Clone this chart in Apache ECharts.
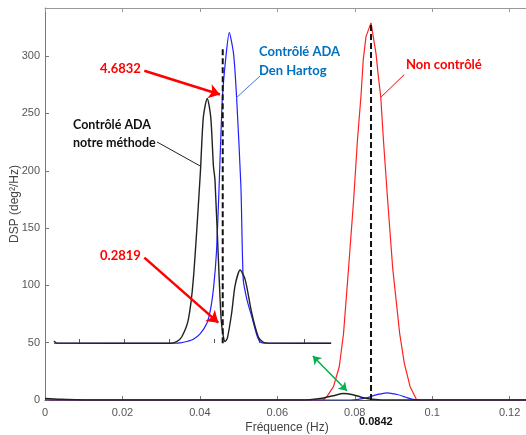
<!DOCTYPE html>
<html>
<head>
<meta charset="utf-8">
<script src="https://cdn.jsdelivr.net/npm/echarts@6/dist/echarts.min.js"></script>
<style>html,body{margin:0;padding:0;background:#fff}#c{width:526px;height:435px}</style>
</head>
<body>
<div id="c"></div>
<script>
// ---- Axis ticks ----
const xTicks = [0, 0.02, 0.04, 0.06, 0.08, 0.1, 0.12];
const yTicks = [0, 50, 100, 150, 200, 250, 300];
const xMax = 0.125, yMax = 342;

// ---- Main spectra (DSP vs frequency) ----
const redFreq = [0, 0.0719, 0.0728, 0.0745, 0.0760, 0.0771, 0.0784, 0.0797, 0.0807, 0.0816, 0.0822, 0.0829, 0.0842, 0.0855, 0.0861, 0.0867, 0.0874, 0.0885, 0.0898, 0.0916, 0.0928, 0.0943, 0.0959, 0.0969, 0.125];
const redDsp  = [0, 0, 2.9, 11.6, 29, 58, 115, 174, 227, 265, 297, 317, 329, 302, 282, 265, 227, 174, 115, 58, 32, 11.6, 0.6, 0, 0];

const blueFreq = [0, 0.079, 0.0805, 0.083, 0.0855, 0.0883, 0.091, 0.0932, 0.095, 0.097, 0.125];
const blueDsp  = [0, 0, 0.4, 1.8, 4.4, 6.3, 4.8, 2.4, 0.6, 0, 0];

const blackFreq = [0, 0.004, 0.008, 0.012, 0.066, 0.069, 0.072, 0.0745, 0.0771, 0.0795, 0.0815, 0.0835, 0.086, 0.088, 0.125];
const blackDsp  = [1.3, 0.6, 0.2, 0, 0, 0.5, 1.8, 3.8, 5.6, 4.6, 2.6, 1.0, 0.2, 0, 0];

// ---- Inset (drawn in main-axis units, baseline at ~50) ----
const inBlueFreq = [0.0023, 0.0336, 0.0349, 0.0366, 0.0383, 0.0401, 0.0418, 0.0428, 0.0436, 0.0443, 0.0449, 0.0458, 0.0468, 0.0476, 0.0487, 0.0495, 0.0506, 0.0512, 0.0522, 0.0534, 0.0547, 0.0556, 0.0571, 0.0739];
const inBlueDsp  = [49.5, 49.5, 49.8, 51, 53, 58, 67, 80, 100, 130, 180, 263, 302, 320.5, 302, 263, 186, 105, 87, 72.7, 56.7, 50.6, 49.6, 49.5];

const inBlackFreq = [0.0023, 0.0031, 0.0323, 0.0340, 0.0353, 0.0370, 0.0383, 0.0401, 0.0409, 0.0419, 0.0428, 0.0435, 0.0439, 0.0450, 0.0455, 0.0460, 0.0465, 0.0471, 0.0482, 0.0491, 0.0504, 0.0517, 0.0534, 0.0551, 0.0563, 0.0574, 0.0739];
const inBlackDsp  = [51.5, 49.6, 49.5, 50.9, 55, 70, 105, 197, 247, 263, 247, 204, 192, 105, 70, 56.7, 51, 54, 75.7, 100, 113.4, 105, 75.7, 55, 50.6, 49.7, 49.5];
const insetTicks = [0.0088, 0.0204, 0.0320, 0.0437, 0.0553, 0.0669];

// ---- Reference lines ----
const peakUncontrolled = 0.0842, peakUncontrolledDsp = 329;
const insetMarkFreq = 0.0459, insetMarkDsp = 307, insetBase = 49.5;

// ---- Annotations (data units) ----
const arrowRed1 = [[0.02566, 287.3], [0.04520, 266.5]];
const arrowRed2 = [[0.02566, 124.2], [0.04475, 67.5]];
const leaderBlack = [[0.02894, 225.1], [0.04005, 204.2]];
const leaderBlue = [[0.05556, 282.7], [0.04935, 263.5]];
const leaderRed = [[0.09276, 283.8], [0.08682, 264.4]];
const arrowGreen = [[0.06917, 38.4], [0.07796, 8.1]];

const zip = (a, b) => a.map((v, i) => [v, b[i]]);

const chart = echarts.init(document.getElementById('c'), null, {renderer: 'canvas'});
const axisFont = 'Liberation Sans';
const annFont = 'Lato';

function ml(coords, color, width, symbols, sizes) {
  return [
    {coord: coords[0], symbol: symbols[0], symbolSize: sizes[0],
      lineStyle: {color: color, width: width, type: 'solid'}, label: {show: false}},
    {coord: coords[1], symbol: symbols[1], symbolSize: sizes[1]}
  ];
}

const option = {
  animation: false,
  backgroundColor: '#ffffff',
  grid: {left: 45, top: 8, width: 484, height: 392, outerBoundsMode: 'none', containLabel: false},
  xAxis: [
    {
      type: 'value', min: 0, max: xMax, interval: 0.02,
      name: 'Fréquence (Hz)', nameLocation: 'middle', nameGap: 22, nameMoveOverlap: false,
      nameTextStyle: {fontFamily: axisFont, fontSize: 12, color: '#444'},
      axisLine: {show: true, onZero: false, lineStyle: {color: '#555', width: 1}},
      axisTick: {show: true, inside: true, length: 4, customValues: xTicks, lineStyle: {color: '#777'}},
      axisLabel: {fontFamily: axisFont, fontSize: 11, color: '#555', margin: 7,
        customValues: xTicks},
      splitLine: {show: false}
    },
    {
      type: 'value', min: 0, max: xMax, interval: 0.02, position: 'top',
      axisLine: {show: true, onZero: false, lineStyle: {color: '#999', width: 1}},
      axisTick: {show: true, inside: true, length: 4, customValues: xTicks, lineStyle: {color: '#999'}},
      axisLabel: {show: false}, splitLine: {show: false}
    },
    {
      type: 'value', min: 0, max: xMax, position: 'bottom', offset: -57,
      axisLine: {show: false, onZero: false},
      axisTick: {show: true, inside: true, length: 4, customValues: insetTicks, lineStyle: {color: '#555'}},
      axisLabel: {show: false}, splitLine: {show: false}
    }
  ],
  yAxis: {
    type: 'value', min: 0, max: yMax, interval: 50,
    name: 'DSP (deg²/Hz)', nameLocation: 'middle', nameGap: 24, nameMoveOverlap: false,
    nameTextStyle: {fontFamily: axisFont, fontSize: 12, color: '#444'},
    axisLine: {show: true, lineStyle: {color: '#777', width: 1}},
    axisTick: {show: true, inside: true, length: 4, customValues: yTicks, lineStyle: {color: '#777'}},
    axisLabel: {fontFamily: axisFont, fontSize: 11, color: '#555', margin: 5,
      customValues: yTicks},
    splitLine: {show: false}
  },
  series: [
    {type: 'line', name: 'Non contrôlé', data: zip(redFreq, redDsp), showSymbol: false,
      lineStyle: {color: '#ff2020', width: 1.2}, z: 2},
    {type: 'line', name: 'Den Hartog', data: zip(blueFreq, blueDsp), showSymbol: false, smooth: 0.3,
      lineStyle: {color: '#2020ff', width: 1.2}, z: 3},
    {type: 'line', name: 'Notre méthode', data: zip(blackFreq, blackDsp), showSymbol: false, smooth: 0.3,
      lineStyle: {color: '#222', width: 1.5}, z: 4},
    {type: 'line', name: 'inset blue', data: zip(inBlueFreq, inBlueDsp), showSymbol: false, smooth: 0.2,
      lineStyle: {color: '#2020ff', width: 1.2}, z: 3},
    {type: 'line', name: 'inset black', data: zip(inBlackFreq, inBlackDsp), showSymbol: false, smooth: 0.25,
      lineStyle: {color: '#222', width: 1.4}, z: 4},
    {type: 'line', name: 'peak line', data: [[peakUncontrolled, 0], [peakUncontrolled, peakUncontrolledDsp]],
      showSymbol: false, lineStyle: {color: '#111', width: 2, type: [6, 3]}, z: 6},
    {type: 'line', name: 'inset line', data: [[insetMarkFreq, insetBase], [insetMarkFreq, insetMarkDsp]],
      showSymbol: false, lineStyle: {color: '#111', width: 2, type: [6, 3]}, z: 6},
    {type: 'line', name: 'annotations', data: zip(redFreq, redDsp), showSymbol: false,
      lineStyle: {opacity: 0}, z: 7,
      markLine: {
        silent: true, animation: false, precision: 6,
        data: [
          ml(arrowRed1, '#ff0000', 2.5, ['none', 'arrow'], [0, 11]),
          ml(arrowRed2, '#ff0000', 2.5, ['none', 'arrow'], [0, 11]),
          ml(leaderBlack, '#222', 1, ['none', 'none'], [0, 0]),
          ml(leaderBlue, '#4a78c8', 1, ['none', 'none'], [0, 0]),
          ml(leaderRed, '#ff0000', 1, ['none', 'none'], [0, 0]),
          ml(arrowGreen, '#00b050', 1.5, ['arrow', 'arrow'], [8, 8])
        ]
      }
    }
  ],
  graphic: [
    {type: 'text', left: 100, top: 62, style: {text: '4.6832', fill: '#ff0000', font: 'bold 13px ' + annFont}},
    {type: 'text', left: 100, top: 249, style: {text: '0.2819', fill: '#ff0000', font: 'bold 13px ' + annFont}},
    {type: 'text', left: 73, top: 116, style: {text: 'Contrôlé ADA\nnotre méthode', fill: '#111', font: 'bold 12.5px ' + annFont, lineHeight: 17.7}},
    {type: 'text', left: 259, top: 42, style: {text: 'Contrôlé ADA\nDen Hartog', fill: '#0070c0', font: 'bold 13px ' + annFont, lineHeight: 19.3}},
    {type: 'text', left: 406, top: 58, style: {text: 'Non contrôlé', fill: '#ff0000', font: 'bold 13px ' + annFont}},
    {type: 'text', left: 359, top: 416, style: {text: '0.0842', fill: '#111', font: 'bold 11px ' + axisFont}}
  ]
};
chart.setOption(option);
</script>
</body>
</html>
